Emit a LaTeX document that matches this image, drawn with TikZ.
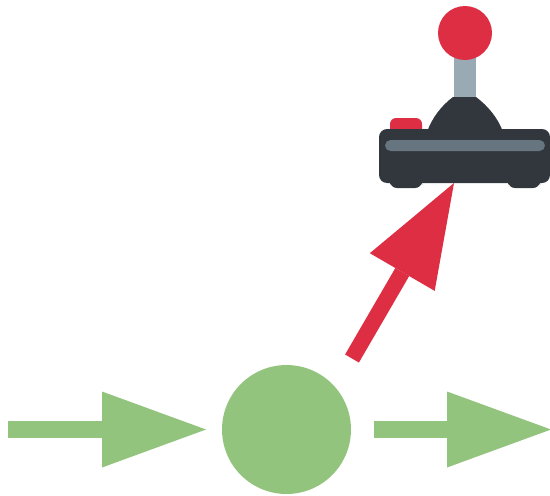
\documentclass[tikz,border=0pt]{standalone}
\usetikzlibrary{arrows.meta}
\definecolor{flowgreen}{HTML}{93C47D}
\definecolor{padred}{HTML}{DD2E44}
\definecolor{paddark}{HTML}{31373D}
\definecolor{padbar}{HTML}{66757F}
\definecolor{padstick}{HTML}{99AAB5}
\begin{document}
\begin{tikzpicture}[
    x=0.02cm, y=-0.02cm,
    flow/.style={line width=0.34cm, flowgreen, -{Triangle[length=2.08cm, width=1.52cm, line width=0pt]}},
    action/.style={line width=0.32cm, padred, -{Triangle[length=2.06cm, width=1.5cm, line width=0pt]}},
    dot/.style={circle, fill=flowgreen, minimum size=2.58cm, inner sep=0pt},
    pad/.style={rectangle, rounded corners=0.16cm, fill=paddark, minimum width=3.42cm, minimum height=1.08cm, inner sep=0pt},
    padstrip/.style={rectangle, rounded corners=0.11cm, fill=padbar, minimum width=3.2cm, minimum height=0.22cm, inner sep=0pt},
    ball/.style={circle, fill=padred, minimum size=1.08cm, inner sep=0pt},
    stick/.style={rectangle, fill=padstick, minimum width=0.44cm, minimum height=1cm, inner sep=0pt}
]
\useasboundingbox (0,0) rectangle (550,495);

% joystick
\node[stick] (rod) at (465,76) {};
\node[ball] (knob) at (465,33) {};
\fill[padred, rounded corners=0.12cm] (390,136) -- (390,118) -- (422,118) -- (422,136) -- cycle;
\fill[paddark, rounded corners=0.14cm] (390,178) -- (390,188) -- (422,188) -- (422,178) -- cycle;
\fill[paddark, rounded corners=0.14cm] (508,178) -- (508,188) -- (540,188) -- (540,178) -- cycle;
\fill[paddark] (427,132) .. controls (432,118) and (441,106) .. (453,97) -- (476,97)
    .. controls (488,106) and (498,118) .. (503,132) -- cycle;
\node[pad] (base) at (464.5,156) {};
\node[padstrip] (strip) at (465,145.5) {};

% flow
\node[dot] (mid) at (286.5,429.5) {};
\coordinate (instart) at (8,429.5);
\coordinate (inend) at (206,429.5);
\coordinate (outstart) at (374,429.5);
\coordinate (outend) at (551,429.5);
\coordinate (tail) at (352,358.5);
\coordinate (padtip) at (454,183);

\draw[flow] (instart) -- (inend);
\draw[flow] (outstart) -- (outend);
\draw[action] (tail) -- (padtip);
\end{tikzpicture}
\end{document}
